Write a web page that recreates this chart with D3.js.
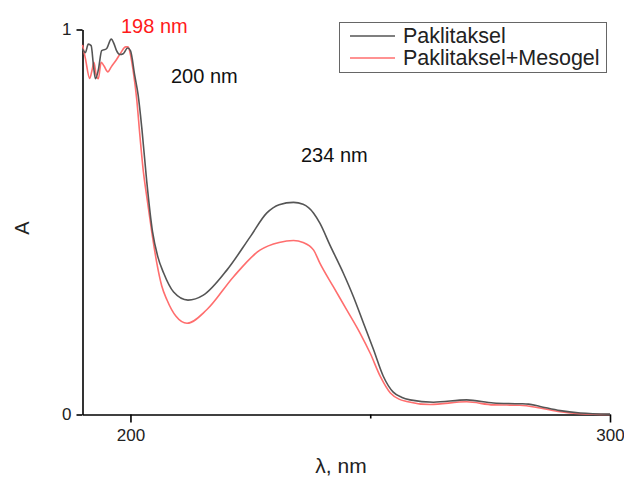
<!DOCTYPE html>
<html>
<head>
<meta charset="utf-8">
<script src="https://cdn.jsdelivr.net/npm/d3@7"></script>
<style>
  body { margin: 0; background: #fff; }
  svg { display: block; font-family: "Liberation Sans", Arial, sans-serif; }
</style>
</head>
<body>
<div id="chart"></div>
<script>
// wavelength (nm) and absorbance
var wlPak = [190.0, 190.6, 191.2, 191.8, 192.3, 192.7, 193.3, 194.0, 195.0, 196.0, 196.6, 197.1, 197.8, 198.5, 199.4, 200.0,
    200.9, 201.6, 202.4, 203.4, 204.6, 205.7, 206.9, 209.0, 212.0, 215.2, 220.1, 225.0, 228.4, 231.0, 234.0, 236.0,
    238.2, 239.5, 241.6, 244.4, 246.5, 248.6, 250.7, 252.7, 254.8, 256.5, 258.3, 263.2, 270.1, 275.7, 281.2, 283.0,
    285.4, 289.6, 293.8, 300.0];
var aPak = [0.950, 0.940, 0.962, 0.958, 0.905, 0.872, 0.895, 0.945, 0.950, 0.975, 0.962, 0.945, 0.935, 0.937, 0.952, 0.945,
    0.880, 0.830, 0.740, 0.605, 0.475, 0.410, 0.368, 0.318, 0.297, 0.310, 0.375, 0.462, 0.523, 0.545, 0.551, 0.546,
    0.523, 0.497, 0.440, 0.367, 0.306, 0.237, 0.168, 0.100, 0.058, 0.045, 0.038, 0.032, 0.038, 0.030, 0.028, 0.027,
    0.021, 0.010, 0.004, 0.001];

var wlMeso = [190.0, 190.6, 191.5, 192.0, 192.4, 192.8, 193.3, 193.9, 194.5, 195.3, 196.0, 197.0, 198.0, 199.0, 199.5, 200.0,
    200.6, 201.3, 202.0, 202.7, 203.4, 204.5, 205.5, 206.5, 207.6, 209.5, 211.8, 215.9, 221.5, 227.0, 231.0, 234.0,
    236.0, 238.2, 239.5, 242.3, 245.1, 247.9, 250.0, 252.1, 254.2, 256.0, 257.6, 262.5, 270.1, 275.7, 281.2, 285.4,
    289.6, 293.8, 300.0];
var aMeso = [0.960, 0.925, 0.873, 0.895, 0.915, 0.885, 0.872, 0.915, 0.905, 0.890, 0.903, 0.920, 0.940, 0.955, 0.955, 0.935,
    0.890, 0.820, 0.720, 0.630, 0.566, 0.470, 0.393, 0.335, 0.298, 0.255, 0.237, 0.272, 0.358, 0.427, 0.447, 0.452,
    0.447, 0.427, 0.393, 0.332, 0.272, 0.211, 0.159, 0.099, 0.056, 0.040, 0.034, 0.026, 0.033, 0.025, 0.024, 0.017,
    0.007, 0.002, 0.000];

var seriesNames = ["Paklitaksel", "Paklitaksel+Mesogel"];
var seriesColors = ["#555555", "#ff6e6e"];
var xMajorTicks = [200, 300];
var xMinorTicks = [250];
var yTicks = [0, 1];
var peakLabels = [
    {text: "198 nm", x: 121, y: 33, color: "#ff1a1a"},
    {text: "200 nm", x: 171, y: 83, color: "#111"},
    {text: "234 nm", x: 301, y: 162, color: "#111"}
];

function draw() {
    var width = 624, height = 479;

    var svg = d3.select("#chart")
        .append("svg")
        .attr("width", width)
        .attr("height", height);

    var x = d3.scaleLinear().domain([190, 300]).range([82.5, 610]);
    var y = d3.scaleLinear().domain([0, 1]).range([414.5, 29.5]);

    // x axis
    var xAxis = svg.append("g")
        .attr("transform", "translate(0," + y(0) + ")")
        .call(d3.axisBottom(x).tickValues(xMajorTicks).tickSize(8).tickSizeOuter(0).tickPadding(6).tickFormat(d3.format("d")));
    xAxis.select(".domain").attr("stroke-width", 1.6);
    xAxis.selectAll(".tick line").attr("stroke-width", 1.6);
    xAxis.selectAll("text").attr("font-size", 17).attr("fill", "#222");

    var xMinor = svg.append("g")
        .attr("transform", "translate(0," + y(0) + ")")
        .call(d3.axisBottom(x).tickValues(xMinorTicks).tickSize(4).tickFormat(""));
    xMinor.select(".domain").remove();
    xMinor.selectAll(".tick line").attr("stroke-width", 1.6);

    // y axis
    var yAxis = svg.append("g")
        .attr("transform", "translate(" + x(190) + ",0)")
        .call(d3.axisLeft(y).tickValues(yTicks).tickSize(6).tickSizeOuter(0).tickPadding(5).tickFormat(d3.format("d")));
    yAxis.select(".domain").attr("stroke-width", 1.6);
    yAxis.selectAll(".tick line").attr("stroke-width", 1.6);
    yAxis.selectAll("text").attr("font-size", 17).attr("fill", "#222");

    // labels
    svg.append("text")
        .attr("transform", "translate(" + 341 + "," + 473 + ")")
        .style("text-anchor", "middle")
        .attr("font-size", 21)
        .attr("fill", "#222")
        .text("λ, nm");

    svg.append("text")
        .attr("transform", "translate(29,228)rotate(-90)")
        .style("text-anchor", "middle")
        .attr("font-size", 20)
        .attr("fill", "#222")
        .text("A");

    var line = d3.line()
        .x(function (d) { return x(d[0]); })
        .y(function (d) { return y(d[1]); })
        .curve(d3.curveMonotoneX);

    var data = [d3.zip(wlPak, aPak), d3.zip(wlMeso, aMeso)];

    // red drawn first so black sits on top
    [1, 0].forEach(function (i) {
        svg.append("path")
            .datum(data[i])
            .attr("fill", "none")
            .attr("stroke", seriesColors[i])
            .attr("stroke-width", 1.6)
            .attr("stroke-linejoin", "round")
            .attr("d", line);
    });

    peakLabels.forEach(function (p) {
        svg.append("text")
            .attr("x", p.x)
            .attr("y", p.y)
            .attr("font-size", 20)
            .attr("fill", p.color)
            .text(p.text);
    });

    // legend
    var legend = svg.append("g");
    legend.append("rect")
        .attr("x", 339.5).attr("y", 22.5)
        .attr("width", 267).attr("height", 50)
        .attr("fill", "#fff")
        .attr("stroke", "#666")
        .attr("stroke-width", 1);
    seriesNames.forEach(function (name, i) {
        var ly = 36 + i * 22;
        legend.append("line")
            .attr("x1", 350).attr("x2", 395)
            .attr("y1", ly).attr("y2", ly)
            .attr("stroke", seriesColors[i])
            .attr("stroke-width", 1.5);
        legend.append("text")
            .attr("x", 403).attr("y", ly + 7)
            .attr("font-size", 21.5)
            .attr("fill", "#222")
            .text(name);
    });
}
draw();
</script>
</body>
</html>
